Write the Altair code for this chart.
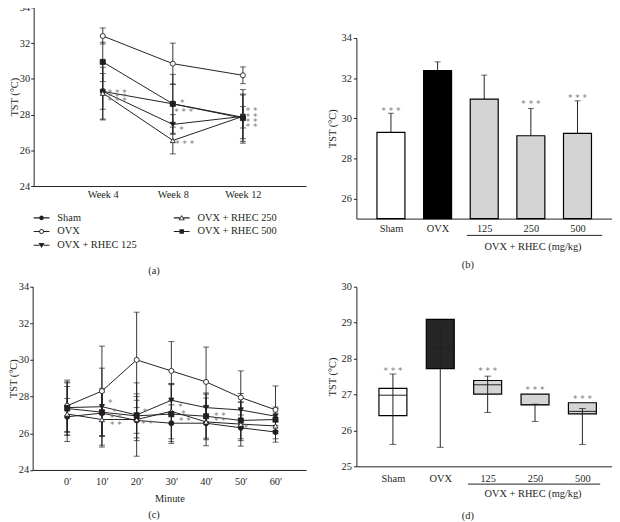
import json
import altair as alt
import pandas as pd

FONT = "Liberation Serif"
FS = 10.5
INK = "#231f20"
STAR = "#777777"
W, H = 612, 514

# ---------------- shared series info ----------------
groups = ["Sham", "OVX", "OVX + RHEC 125", "OVX + RHEC 250", "OVX + RHEC 500"]
marker_shapes = ["circle", "circle", "triangle-down", "triangle-up", "square"]
marker_fills = [INK, "white", INK, "white", INK]

# ---------------- panel (a): weekly TST ----------------
weeks = [4, 8, 12]
a_sham = [29.3, 28.6, 27.85]
a_ovx = [32.4, 30.85, 30.2]
a_125 = [29.3, 27.45, 27.9]
a_250 = [29.2, 26.55, 27.9]
a_500 = [30.95, 28.6, 27.8]
a_sham_sd = [1.0, 1.1, 0.6]
a_ovx_sd = [0.45, 1.15, 0.47]
a_125_sd = [1.6, 0.55, 1.5]
a_250_sd = [1.45, 0.75, 1.25]
a_500_sd = [1.1, 1.65, 1.3]
a_star_x = [4.83, 4.83, 4.83, 8.54, 8.62, 8.5, 8.68, 12.5, 12.5, 12.5, 12.5]
a_star_y = [29.3, 29.07, 28.85, 28.73, 28.24, 27.26, 26.49, 28.3, 28.0, 27.7, 27.4]
a_star_t = ["* * *", "* * *", "* * *", "*", "* * *", "*", "* * *", "* *", "* *", "* *", "* *"]

# ---------------- panel (b): bars ----------------
b_cats = ["Sham", "OVX", "125", "250", "500"]
b_mean = [29.3, 32.38, 30.95, 29.13, 29.25]
b_err = [0.95, 0.43, 1.2, 1.36, 1.62]
b_fills = ["white", "black", "#d4d4d4", "#d4d4d4", "#d4d4d4"]
b_star_pos = [1, 4, 5]
b_star_y = [30.45, 30.82, 31.11]

# ---------------- panel (c): minutes ----------------
minutes = [0, 10, 20, 30, 40, 50, 60]
c_sham = [26.9, 27.1, 26.7, 26.55, 26.55, 26.3, 26.07]
c_ovx = [27.5, 28.3, 30.0, 29.4, 28.8, 27.95, 27.28]
c_125 = [27.4, 27.45, 27.0, 27.8, 27.4, 27.27, 26.93]
c_250 = [27.05, 26.75, 26.75, 27.2, 26.62, 26.5, 26.4]
c_500 = [27.35, 27.15, 26.95, 27.05, 26.93, 26.7, 26.75]
c_sham_sd = [1.0, 1.25, 1.1, 1.0, 0.9, 0.7, 0.55]
c_ovx_sd = [1.4, 2.45, 2.6, 1.6, 1.9, 1.45, 1.3]
c_125_sd = [1.35, 2.1, 1.0, 0.9, 0.8, 0.9, 0.5]
c_250_sd = [1.5, 1.5, 2.0, 1.5, 1.3, 1.2, 0.7]
c_500_sd = [1.45, 1.3, 1.2, 1.6, 1.2, 1.0, 0.6]
c_star_x = [12.4, 13.6, 14.0, 14.0, 22.4, 23.0, 32.6, 33.5, 33.9, 44.0, 44.0, 51.5]
c_star_y = [27.74, 27.25, 26.96, 26.57, 27.24, 26.62, 27.52, 27.16, 26.8, 27.07, 26.75, 26.37]
c_star_t = ["*", "*", "* *", "* *", "*", "* *", "*", "*", "* *", "* *", "* *", "*"]

# ---------------- panel (d): box plots ----------------
d_cats = ["Sham", "OVX", "125", "250", "500"]
d_min = [25.61, 25.53, 26.5, 26.25, 25.61]
d_q1 = [26.41, 27.72, 27.01, 26.71, 26.46]
d_med = [26.98, 28.29, 27.27, 26.72, 26.53]
d_q3 = [27.17, 29.09, 27.39, 27.01, 26.77]
d_max = [27.57, 28.87, 27.51, 26.73, 26.61]
d_fills = ["white", "#262626", "#d4d4d4", "#d4d4d4", "#d4d4d4"]
d_star_pos = [1, 3, 4, 5]
d_star_y = [27.7, 27.72, 27.17, 26.94]

group_label = "OVX + RHEC (mg/kg)"


def long_df(xs, xname, series, sds):
    rows = []
    for g, m, s in zip(groups, series, sds):
        for x, mv, sv in zip(xs, m, s):
            rows.append({"group": g, xname: x, "mean": mv, "lo": mv - sv, "hi": mv + sv})
    return pd.DataFrame(rows)


SHAPE = alt.Scale(domain=groups, range=marker_shapes)
FILL = alt.Scale(domain=groups, range=marker_fills)


def star_text(df, X, Y):
    return alt.Chart(df).mark_text(font="DejaVu Sans", fontSize=9, color=STAR, baseline="middle", dy=2).encode(
        x=X("x"), y=Y("y"), text="t:N")


def series_layers(df, xf, xscale, yscale, xaxis, yaxis, stars):
    def X(f):
        return alt.X(f"{f}:Q", scale=xscale, axis=xaxis)

    def Y(f):
        return alt.Y(f"{f}:Q", scale=yscale, axis=yaxis)

    base = alt.Chart(df)
    err = base.mark_rule(color=INK, strokeWidth=0.9).encode(x=X(xf), y=Y("lo"), y2="hi:Q")
    caps = (
        base.transform_fold(["lo", "hi"], as_=["end", "val"])
        .mark_tick(orient="horizontal", size=6, thickness=1, color=INK)
        .encode(x=X(xf), y=Y("val"))
    )
    line = base.mark_line(color=INK, strokeWidth=1).encode(x=X(xf), y=Y("mean"), detail="group:N")
    pts = base.mark_point(filled=True, size=26, stroke=INK, strokeWidth=0.9, opacity=1).encode(
        x=X(xf), y=Y("mean"),
        shape=alt.Shape("group:N", scale=SHAPE, legend=None),
        fill=alt.Fill("group:N", scale=FILL, legend=None),
    )
    return [err, caps, line, pts, star_text(stars, X, Y)]


def deco_text(txt, x, y, size=FS):
    return alt.Chart(pd.DataFrame({"t": [txt]})).mark_text(font=FONT, fontSize=size, color=INK).encode(
        x=alt.value(x), y=alt.value(y), text="t:N"
    )


# ---------------- panel (a) ----------------
dfa = long_df(weeks, "week", [a_sham, a_ovx, a_125, a_250, a_500],
              [a_sham_sd, a_ovx_sd, a_125_sd, a_250_sd, a_500_sd])
stars_a = pd.DataFrame({"x": a_star_x, "y": a_star_y, "t": a_star_t})
XA = alt.Scale(domain=[0.056, 15.605], range=[26, 302], nice=False, zero=False)
YA = alt.Scale(domain=[24, 34], range=[177, -4], nice=False, zero=False)
xa_axis = alt.Axis(orient="bottom", offset=177 - H, values=weeks, labelExpr="'Week ' + datum.value",
                   ticks=False, tickSize=0, labelPadding=4, title=None)
ya_axis = alt.Axis(orient="left", offset=-26, values=[24, 26, 28, 30, 32, 34], title="TST (°C)",
                   titlePadding=0, labelPadding=1)


# legend glyphs: a short line with the marker in the middle, drawn as filled outlines only
def seg(a):
    t = 0.065
    return f"M-1,-{t}H-{a}V{t}H-1ZM{a},-{t}H1V{t}H{a}Z"


def disc(rad, cw=True):
    s = 1 if cw else 0
    return f"M{rad},0A{rad},{rad},0,1,{s},-{rad},0A{rad},{rad},0,1,{s},{rad},0Z"


r = 0.3
leg_paths = [
    seg(r) + disc(r),                                              # Sham: filled circle
    seg(r) + disc(r) + disc(r - 0.11, cw=False),                   # OVX: open circle
    seg(0.25) + "M-0.38,-0.3L0.38,-0.3L0,0.36Z",                   # 125: filled down-triangle
    seg(0.22) + "M0,-0.36L0.4,0.3L-0.4,0.3ZM0,-0.17L-0.22,0.2L0.22,0.2Z",  # 250: open up-triangle
    seg(0.28) + "M-0.28,-0.28H0.28V0.28H-0.28Z",                  # 500: filled square
]
LEG = alt.Legend(title=None, orient="none", legendX=26, legendY=201, columns=2, columnPadding=37,
                 rowPadding=-9, symbolSize=256, symbolStrokeWidth=0,
                 labelFont=FONT, labelFontSize=FS, labelColor=INK, labelOffset=8, padding=0)
legend_layer = (
    alt.Chart(pd.DataFrame({"group": groups}))
    .transform_filter("false")
    .mark_point(filled=True, size=256, color=INK, strokeWidth=0, opacity=1)
    .encode(shape=alt.Shape("group:N", scale=alt.Scale(domain=groups, range=leg_paths), legend=LEG))
)
pa = alt.layer(
    *series_layers(dfa, "week", XA, YA, xa_axis, ya_axis, stars_a),
    legend_layer,
    deco_text("(a)", 148, 263),
).resolve_scale(shape="independent")

# ---------------- panel (b) ----------------
dfb = pd.DataFrame({"cat": b_cats, "pos": list(range(1, len(b_cats) + 1)), "mean": b_mean, "err": b_err})
stars_b = pd.DataFrame({"x": b_star_pos, "y": b_star_y, "t": ["* * *"] * len(b_star_pos)})
XB = alt.Scale(domain=[0.259, 5.74], range=[353, 612], nice=False, zero=False)
YB = alt.Scale(domain=[25, 34], range=[210, 27], nice=False, zero=False)
xb_axis = alt.Axis(orient="bottom", offset=210 - H, values=[1, 2, 3, 4, 5],
                   labelExpr=json.dumps(b_cats) + "[datum.value - 1]",
                   ticks=False, tickSize=0, labelPadding=5, title=None)
yb_axis = alt.Axis(orient="left", offset=-353, values=[26, 28, 30, 32, 34], title="TST (°C)", titlePadding=4)


def XBq(f):
    return alt.X(f"{f}:Q", scale=XB, axis=xb_axis)


def YBq(f):
    return alt.Y(f"{f}:Q", scale=YB, axis=yb_axis)


bb = alt.Chart(dfb).transform_calculate(
    x0="datum.pos - 0.3", x1="datum.pos + 0.3", hi="datum.mean + datum.err", base="25"
)
bars_b = bb.mark_bar(stroke="black", strokeWidth=1.2).encode(
    x=XBq("x0"), x2="x1:Q", y=YBq("mean"), y2="base:Q",
    fill=alt.Fill("cat:N", scale=alt.Scale(domain=b_cats, range=b_fills), legend=None),
)
err_b = bb.mark_rule(color=INK, strokeWidth=1).encode(x=XBq("pos"), y=YBq("mean"), y2="hi:Q")
cap_b = bb.mark_tick(orient="horizontal", size=6, thickness=1, color=INK).encode(x=XBq("pos"), y=YBq("hi"))
underline_b = alt.Chart(pd.DataFrame({"a": [0]})).mark_rule(color=INK, strokeWidth=1).encode(
    x=alt.value(465), x2=alt.value(602), y=alt.value(227))
pb = alt.layer(err_b, cap_b, bars_b, star_text(stars_b, XBq, YBq), underline_b,
               deco_text(group_label, 532, 239), deco_text("(b)", 466, 257))

# ---------------- panel (c) ----------------
dfc = long_df(minutes, "minute", [c_sham, c_ovx, c_125, c_250, c_500],
              [c_sham_sd, c_ovx_sd, c_125_sd, c_250_sd, c_500_sd])
stars_c = pd.DataFrame({"x": c_star_x, "y": c_star_y, "t": c_star_t})
XC = alt.Scale(domain=[-9.95, 68.8], range=[25, 302], nice=False, zero=False)
YC = alt.Scale(domain=[24, 34], range=[464.7, 278.8], nice=False, zero=False)
xc_axis = alt.Axis(orient="bottom", offset=464.7 - H, values=minutes, labelExpr="datum.value + '\u2032'",
                   ticks=False, tickSize=0, labelPadding=7, title="Minute", titlePadding=6)
yc_axis = alt.Axis(orient="left", offset=-25, values=[24, 26, 28, 30, 32, 34], title="TST (°C)",
                   titlePadding=0, labelPadding=1)
pc = alt.layer(
    *series_layers(dfc, "minute", XC, YC, xc_axis, yc_axis, stars_c),
    deco_text("(c)", 148, 510),
)

# ---------------- panel (d) ----------------
dfd = pd.DataFrame({"cat": d_cats, "pos": list(range(1, len(d_cats) + 1)),
                    "lo": d_min, "q1": d_q1, "med": d_med, "q3": d_q3, "hi": d_max})
stars_d = pd.DataFrame({"x": d_star_pos, "y": d_star_y, "t": ["* * *"] * len(d_star_pos)})
XD = alt.Scale(domain=[0.229, 5.625], range=[353, 612], nice=False, zero=False)
YD = alt.Scale(domain=[25, 30], range=[461, 279], nice=False, zero=False)
xd_axis = alt.Axis(orient="bottom", offset=461 - H, values=[1, 2, 3, 4, 5],
                   labelExpr=json.dumps(d_cats) + "[datum.value - 1]",
                   ticks=False, tickSize=0, labelPadding=7, title=None)
yd_axis = alt.Axis(orient="left", offset=-353, values=[25, 26, 27, 28, 29, 30], title="TST (°C)", titlePadding=4)


def XDq(f):
    return alt.X(f"{f}:Q", scale=XD, axis=xd_axis)


def YDq(f):
    return alt.Y(f"{f}:Q", scale=YD, axis=yd_axis)


bd = alt.Chart(dfd).transform_calculate(x0="datum.pos - 0.295", x1="datum.pos + 0.295")
box_d = bd.mark_bar(stroke="black", strokeWidth=1.2).encode(
    x=XDq("x0"), x2="x1:Q", y=YDq("q1"), y2="q3:Q",
    fill=alt.Fill("cat:N", scale=alt.Scale(domain=d_cats, range=d_fills), legend=None),
)
whisk_d = bd.mark_rule(color=INK, strokeWidth=1).encode(x=XDq("pos"), y=YDq("lo"), y2="hi:Q")
med_d = bd.mark_rule(color=INK, strokeWidth=1).encode(x=XDq("x0"), x2="x1:Q", y=YDq("med"))
caps_d = (
    bd.transform_fold(["lo", "hi"], as_=["end", "val"])
    .mark_tick(orient="horizontal", size=7, thickness=1, color=INK)
    .encode(x=XDq("pos"), y=YDq("val"))
)
underline_d = alt.Chart(pd.DataFrame({"a": [0]})).mark_rule(color=INK, strokeWidth=1).encode(
    x=alt.value(466), x2=alt.value(600), y=alt.value(479))
pd_ = alt.layer(box_d, whisk_d, med_d, caps_d, star_text(stars_d, XDq, YDq), underline_d,
                deco_text(group_label, 532, 489), deco_text("(d)", 466, 511))

chart = (
    alt.layer(pa, pb, pc, pd_)
    .resolve_scale(x="independent", y="independent", shape="independent", fill="independent")
    .resolve_axis(x="independent", y="independent")
    .properties(width=W, height=H, autosize=alt.AutoSizeParams(type="none"), padding=0)
    .configure_view(stroke=None)
    .configure_axis(
        labelFont=FONT, labelFontSize=FS, labelColor=INK,
        titleFont=FONT, titleFontSize=FS, titleFontWeight="normal", titleColor=INK,
        domainColor=INK, tickColor=INK, tickSize=3, grid=False, labelPadding=2, domainWidth=1,
    )
)

chart.save("out.html", embed_options={"renderer": "svg", "actions": False})
